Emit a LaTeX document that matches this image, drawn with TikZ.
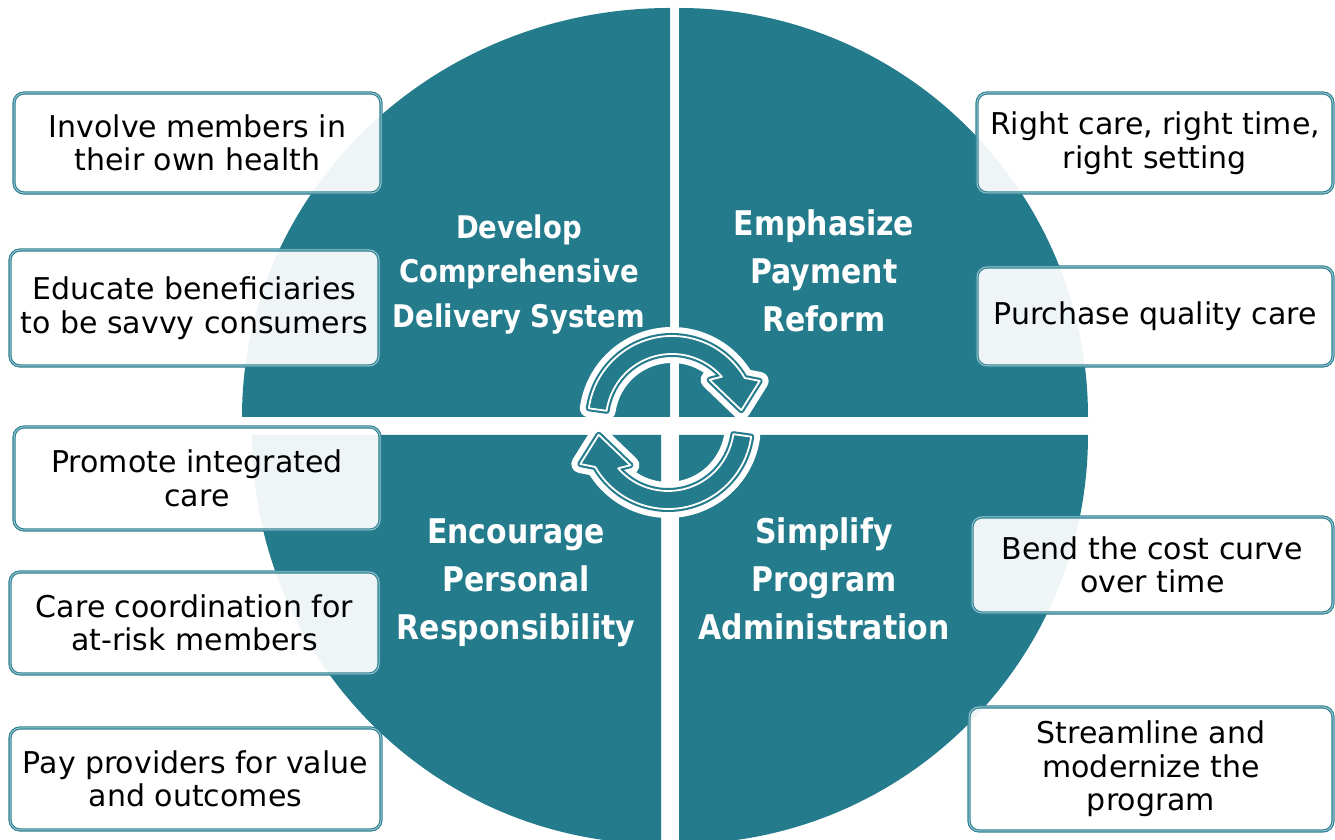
\documentclass[tikz,border=0pt]{standalone}
\usepackage{fontspec}
\setmainfont{DejaVu Sans}
\newfontfamily\qfont[FakeStretch=0.88]{DejaVu Sans}
\definecolor{quad}{RGB}{35,123,140}
\definecolor{boxline}{RGB}{45,128,146}
\definecolor{boxlight}{RGB}{150,196,206}
\tikzset{
  quadfill/.style={fill=quad, draw=none},
  itembox/.style={rectangle, rounded corners=5pt, draw=boxline, line width=0.55pt,
    double=boxlight, double distance=0.5pt,
    fill=white, fill opacity=0.93, text opacity=1, text=black,
    align=center, inner sep=0pt,
    font=\fontsize{15}{16.8}\selectfont},
  quadlabel/.style={text=white, align=center, inner sep=0pt,
    font=\qfont\bfseries\fontsize{17}{24}\selectfont},
  quadlabelsmall/.style={text=white, align=center, inner sep=0pt,
    font=\qfont\bfseries\fontsize{15.6}{22.2}\selectfont},
  cyclearrow/.pic={
    \draw[white, line width=9pt, line join=round]
      (172:84) arc[start angle=172,end angle=30,radius=84] -- (24:96) -- (8:70) -- (47:55) -- (41:66) arc[start angle=41,end angle=172,radius=66] -- cycle;
    \draw[quad, line width=3pt, line join=round]
      (172:84) arc[start angle=172,end angle=30,radius=84] -- (24:96) -- (8:70) -- (47:55) -- (41:66) arc[start angle=41,end angle=172,radius=66] -- cycle;
    \fill[quad]
      (172:84) arc[start angle=172,end angle=30,radius=84] -- (24:96) -- (8:70) -- (47:55) -- (41:66) arc[start angle=41,end angle=172,radius=66] -- cycle;
    \draw[white, line width=0.9pt, line join=round]
      (172:84) arc[start angle=172,end angle=30,radius=84] -- (24:96) -- (8:70) -- (47:55) -- (41:66) arc[start angle=41,end angle=172,radius=66] -- cycle;
  }
}
\begin{document}
\begin{tikzpicture}[x=0.5pt,y=0.5pt]
\useasboundingbox (0,0) rectangle (1335,840);
\clip (0,0) rectangle (1335,840);
\fill[white] (0,0) rectangle (1335,840);

% quadrants
\path[quadfill] (670,423) -- (242,423) arc[start angle=180,end angle=90,x radius=428,y radius=409] -- cycle;
\path[quadfill] (679,423) -- (679,832) arc[start angle=90,end angle=0,radius=409] -- cycle;
\path[quadfill] (679,405) -- (1088,405) arc[start angle=0,end angle=-90,radius=409] -- cycle;
\path[quadfill] (661,405) -- (661,-4) arc[start angle=270,end angle=180,radius=409] -- cycle;

% quadrant labels
\node[quadlabelsmall] (qtl) at (519,565.5) {Develop\\Comprehensive\\Delivery System};
\node[quadlabel] (qtr) at (824,569) {Emphasize\\Payment\\Reform};
\node[quadlabel] (qbl) at (516,257) {Encourage\\Personal\\Responsibility};
\node[quadlabel] (qbr) at (824,261) {Simplify\\Program\\Administration};

% cycle arrows
\pic at (672,420) {cyclearrow};
\pic[rotate=180] at (668,415) {cyclearrow};

% left boxes
\node[itembox, minimum width=183.5pt, minimum height=50pt] (l1) at (197.5,697) {Involve members in\\their own health};
\node[itembox, minimum width=184.5pt, minimum height=58pt] (l2) at (194.5,532) {Educate beneficiaries\\to be savvy consumers};
\node[itembox, minimum width=183pt, minimum height=51.5pt] (l3) at (197,361.5) {Promote integrated\\care};
\node[itembox, minimum width=184.5pt, minimum height=51pt] (l4) at (194.5,217) {Care coordination for\\at-risk members};
\node[itembox, minimum width=185.5pt, minimum height=51pt] (l5) at (195.5,61) {Pay providers for value\\and outcomes};

% right boxes
\node[itembox, minimum width=178pt, minimum height=50pt] (r1) at (1155,697) {Right care, right time,\\right setting};
\node[itembox, minimum width=178pt, minimum height=49.5pt] (r2) at (1155,523.5) {Purchase quality care};
\node[itembox, minimum width=180.5pt, minimum height=48pt] (r3) at (1152.5,275) {Bend the cost curve\\over time};
\node[itembox, minimum width=182pt, minimum height=62pt] (r4) at (1151,71) {Streamline and\\modernize the\\program};
\end{tikzpicture}
\end{document}
